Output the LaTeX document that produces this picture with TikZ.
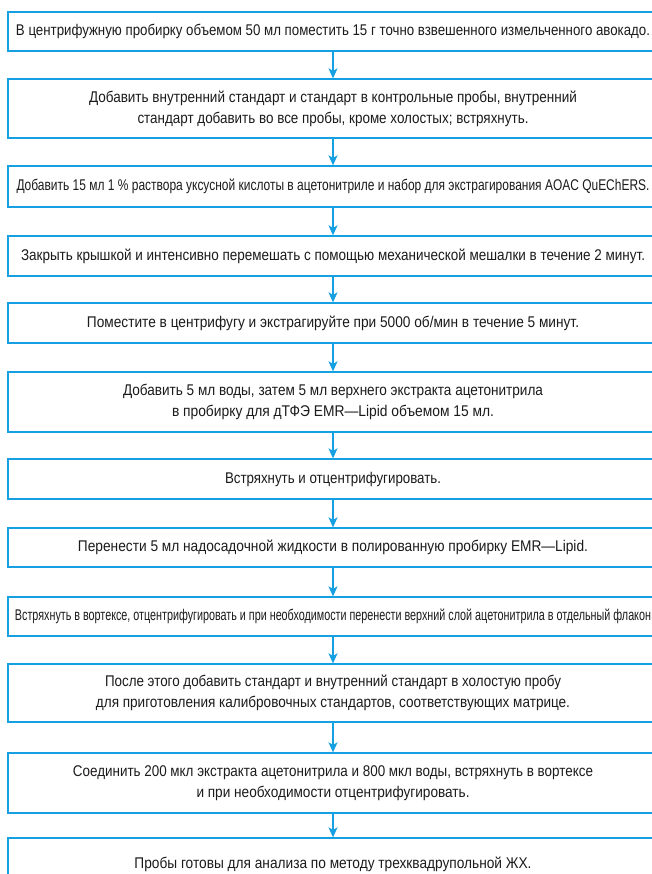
\documentclass[tikz,border=0pt]{standalone}
\usepackage{fontspec}
\setmainfont{Liberation Sans}
\usepackage{graphicx}
\usetikzlibrary{arrows.meta}
\definecolor{flowblue}{RGB}{20,160,225}
\definecolor{ink}{RGB}{28,26,27}
\newcommand{\fitw}[2]{\resizebox{#1pt}{\height}{#2}}
\tikzset{
  stepbox/.style={draw=flowblue, line width=1.3pt, minimum width=650pt, inner sep=0pt,
    text=ink, font=\fontsize{15.5}{21}\selectfont, align=center},
  flowarrow/.style={draw=flowblue, line width=1.3pt, -{Stealth[length=10pt,width=9pt,inset=2.5pt]}},
}
\begin{document}
\begin{tikzpicture}[x=1pt,y=-1pt]
\clip (0,0) rectangle (652,874);
\node[stepbox, minimum height=39pt] (b1) at (333,31.5)
  {\fitw{634}{В центрифужную пробирку объемом 50 мл поместить 15 г точно взвешенного измельченного авокадо.}};
\node[stepbox, minimum height=59pt] (b2) at (333,108.5)
  {\fitw{488}{Добавить внутренний стандарт и стандарт в контрольные пробы, внутренний}\\
   \fitw{391}{стандарт добавить во все пробы, кроме холостых; встряхнуть.}};
\node[stepbox, minimum height=41pt] (b3) at (333,186.5)
  {\fitw{633}{Добавить 15 мл 1 \% раствора уксусной кислоты в ацетонитриле и набор для экстрагирования AOAC QuEChERS.}};
\node[stepbox, minimum height=40pt] (b4) at (333,256)
  {\fitw{624}{Закрыть крышкой и интенсивно перемешать с помощью механической мешалки в течение 2 минут.}};
\node[stepbox, minimum height=40pt] (b5) at (333,323)
  {\fitw{492}{Поместите в центрифугу и экстрагируйте при 5000 об/мин в течение 5 минут.}};
\node[stepbox, minimum height=60pt] (b6) at (333,402)
  {\fitw{420}{Добавить 5 мл воды, затем 5 мл верхнего экстракта ацетонитрила}\\
   \fitw{322}{в пробирку для дТФЭ EMR—Lipid объемом 15 мл.}};
\node[stepbox, minimum height=40pt] (b7) at (333,479)
  {\fitw{216}{Встряхнуть и отцентрифугировать.}};
\node[stepbox, minimum height=39pt] (b8) at (333,547.5)
  {\fitw{510}{Перенести 5 мл надосадочной жидкости в полированную пробирку EMR—Lipid.}};
\node[stepbox, minimum height=39pt] (b9) at (333,616.5)
  {\fitw{636}{Встряхнуть в вортексе, отцентрифугировать и при необходимости перенести верхний слой ацетонитрила в отдельный флакон}};
\node[stepbox, minimum height=58pt] (b10) at (333,693)
  {\fitw{456}{После этого добавить стандарт и внутренний стандарт в холостую пробу}\\
   \fitw{474}{для приготовления калибровочных стандартов, соответствующих матрице.}};
\node[stepbox, minimum height=60pt] (b11) at (333,783)
  {\fitw{520}{Соединить 200 мкл экстракта ацетонитрила и 800 мкл воды, встряхнуть в вортексе}\\
   \fitw{273}{и при необходимости отцентрифугировать.}};
\node[stepbox, minimum height=52pt] (b12) at (333,864)
  {\fitw{397}{Пробы готовы для анализа по методу трехквадрупольной ЖХ.}};
\draw[flowarrow] (b1.south) -- (b2.north);
\draw[flowarrow] (b2.south) -- (b3.north);
\draw[flowarrow] (b3.south) -- (b4.north);
\draw[flowarrow] (b4.south) -- (b5.north);
\draw[flowarrow] (b5.south) -- (b6.north);
\draw[flowarrow] (b6.south) -- (b7.north);
\draw[flowarrow] (b7.south) -- (b8.north);
\draw[flowarrow] (b8.south) -- (b9.north);
\draw[flowarrow] (b9.south) -- (b10.north);
\draw[flowarrow] (b10.south) -- (b11.north);
\draw[flowarrow] (b11.south) -- (b12.north);
\end{tikzpicture}
\end{document}
